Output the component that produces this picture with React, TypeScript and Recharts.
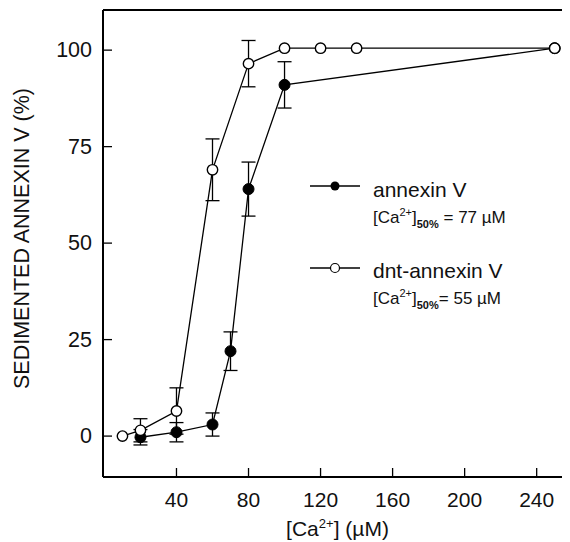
import React from "react";
import { LineChart, Line, XAxis, YAxis, ErrorBar, ReferenceLine, Legend } from "recharts";

const FONT = "'Liberation Sans', Arial, Helvetica, sans-serif";

// [Ca2+] (µM) values, sedimented % and SD
const dntX = [10, 20, 40, 60, 80, 100, 120, 140, 250];
const dntY = [0, 1.5, 6.5, 69, 96.5, 100.5, 100.5, 100.5, 100.5];
const dntErr: (number | undefined)[] = [undefined, 3, 6, 8, 6, undefined, undefined, undefined, undefined];

const annX = [20, 40, 60, 70, 80, 100, 250];
const annY = [-0.3, 1, 3, 22, 64, 91, 100.5];
const annErr: (number | undefined)[] = [2, 2.5, 3, 5, 7, 6, undefined];

const xTicks = [40, 80, 120, 160, 200, 240];
const yTicks = [0, 25, 50, 75, 100];

const xDomain: [number, number] = [-0.8, 258.5];
const yDomain: [number, number] = [-10.6, 110.4];

const dntData = dntX.map((x, i) => ({ x, y: dntY[i], e: dntErr[i] }));
const annData = annX.map((x, i) => ({ x, y: annY[i], e: annErr[i] }));

const YTick = (props: any) => {
  const { x, y, payload } = props;
  return (
    <g>
      <line x1={x} y1={y} x2={x + 9} y2={y} stroke="#000" strokeWidth={1.3} />
      <text x={x - 11} y={y} textAnchor="end" dominantBaseline="central" fontFamily={FONT} fontSize={21.5} fill="#111">
        {payload.value}
      </text>
    </g>
  );
};

const XTick = (props: any) => {
  const { x, y, payload } = props;
  return (
    <g>
      <line x1={x} y1={y} x2={x} y2={y - 9} stroke="#000" strokeWidth={1.3} />
      <text x={x} y={y + 22} textAnchor="middle" dominantBaseline="central" fontFamily={FONT} fontSize={21} fill="#111">
        {payload.value}
      </text>
    </g>
  );
};

const OpenDot = (props: any) => {
  const { cx, cy } = props;
  if (cx == null || cy == null) return null;
  return <circle cx={cx} cy={cy} r={5.2} fill="#fff" stroke="#000" strokeWidth={1.4} />;
};
const FilledDot = (props: any) => {
  const { cx, cy } = props;
  if (cx == null || cy == null) return null;
  return <circle cx={cx} cy={cy} r={5.5} fill="#000" stroke="#000" strokeWidth={1} />;
};

const LegendContent = () => (
  <svg width={262} height={145} style={{ display: "block" }}>
    <line x1={10} y1={16} x2={60} y2={16} stroke="#000" strokeWidth={1.3} />
    <circle cx={35} cy={16} r={4.5} fill="#000" />
    <text x={73} y={27} fontFamily={FONT} fontSize={21} fill="#111">annexin V</text>
    <text x={73} y={53} fontFamily={FONT} fontSize={17} fill="#111">
      [Ca<tspan fontSize={11} dy={-7}>2+</tspan>
      <tspan dy={7}>]</tspan>
      <tspan fontSize={11} dy={5} fontWeight="bold">50%</tspan>
      <tspan dy={-5}> = 77 µM</tspan>
    </text>
    <line x1={10} y1={98} x2={60} y2={98} stroke="#000" strokeWidth={1.3} />
    <circle cx={35} cy={98} r={4.5} fill="#fff" stroke="#000" strokeWidth={1.2} />
    <text x={73} y={108} fontFamily={FONT} fontSize={21} fill="#111">dnt-annexin V</text>
    <text x={73} y={134} fontFamily={FONT} fontSize={17} fill="#111">
      [Ca<tspan fontSize={11} dy={-7}>2+</tspan>
      <tspan dy={7}>]</tspan>
      <tspan fontSize={11} dy={5} fontWeight="bold">50%</tspan>
      <tspan dy={-5}>= 55 µM</tspan>
    </text>
  </svg>
);

export default function App() {
  return (
    <div style={{ width: 562, height: 534, position: "relative", background: "#fff" }}>
      <LineChart width={562} height={534} margin={{ top: 2, right: 0, left: 0, bottom: 0 }}>
        <XAxis
          type="number"
          dataKey="x"
          domain={xDomain}
          ticks={xTicks}
          allowDataOverflow
          height={65}
          tickSize={0}
          tickMargin={0}
          tick={<XTick />}
          axisLine={{ stroke: "#000", strokeWidth: 2 }}
          tickLine={false}
          label={() => (
            <text x={329.5} y={528} textAnchor="middle" fontFamily={FONT} fontSize={21} fill="#111">
              [Ca<tspan fontSize={13} dy={-8}>2+</tspan>
              <tspan dy={8}>] (µM)</tspan>
            </text>
          )}
        />
        <YAxis
          type="number"
          domain={yDomain}
          ticks={yTicks}
          allowDataOverflow
          width={95}
          tickSize={0}
          tickMargin={0}
          tick={<YTick />}
          axisLine={{ stroke: "#000", strokeWidth: 2 }}
          tickLine={false}
          label={() => (
            <text
              x={14}
              y={230.5}
              transform="rotate(-90 14 230.5)"
              textAnchor="middle"
              dominantBaseline="central"
              fontFamily={FONT}
              fontSize={21.5}
              fill="#111"
            >
              SEDIMENTED ANNEXIN V (%)
            </text>
          )}
        />
        <ReferenceLine y={yDomain[1]} stroke="#000" strokeWidth={2} />
        <Line
          data={annData}
          dataKey="y"
          stroke="#000"
          strokeWidth={1.3}
          dot={<FilledDot />}
          activeDot={false}
          isAnimationActive={false}
          legendType="none"
        >
          <ErrorBar dataKey="e" width={7} stroke="#000" strokeWidth={1.3} direction="y" />
        </Line>
        <Line
          data={dntData}
          dataKey="y"
          stroke="#000"
          strokeWidth={1.3}
          dot={<OpenDot />}
          activeDot={false}
          isAnimationActive={false}
          legendType="none"
        >
          <ErrorBar dataKey="e" width={7} stroke="#000" strokeWidth={1.3} direction="y" />
        </Line>
        <Legend
          layout="horizontal"
          align="center"
          verticalAlign="middle"
          content={<LegendContent />}
          wrapperStyle={{ position: "absolute", left: 292, top: 162, width: 262, height: 145 }}
        />
      </LineChart>
    </div>
  );
}
